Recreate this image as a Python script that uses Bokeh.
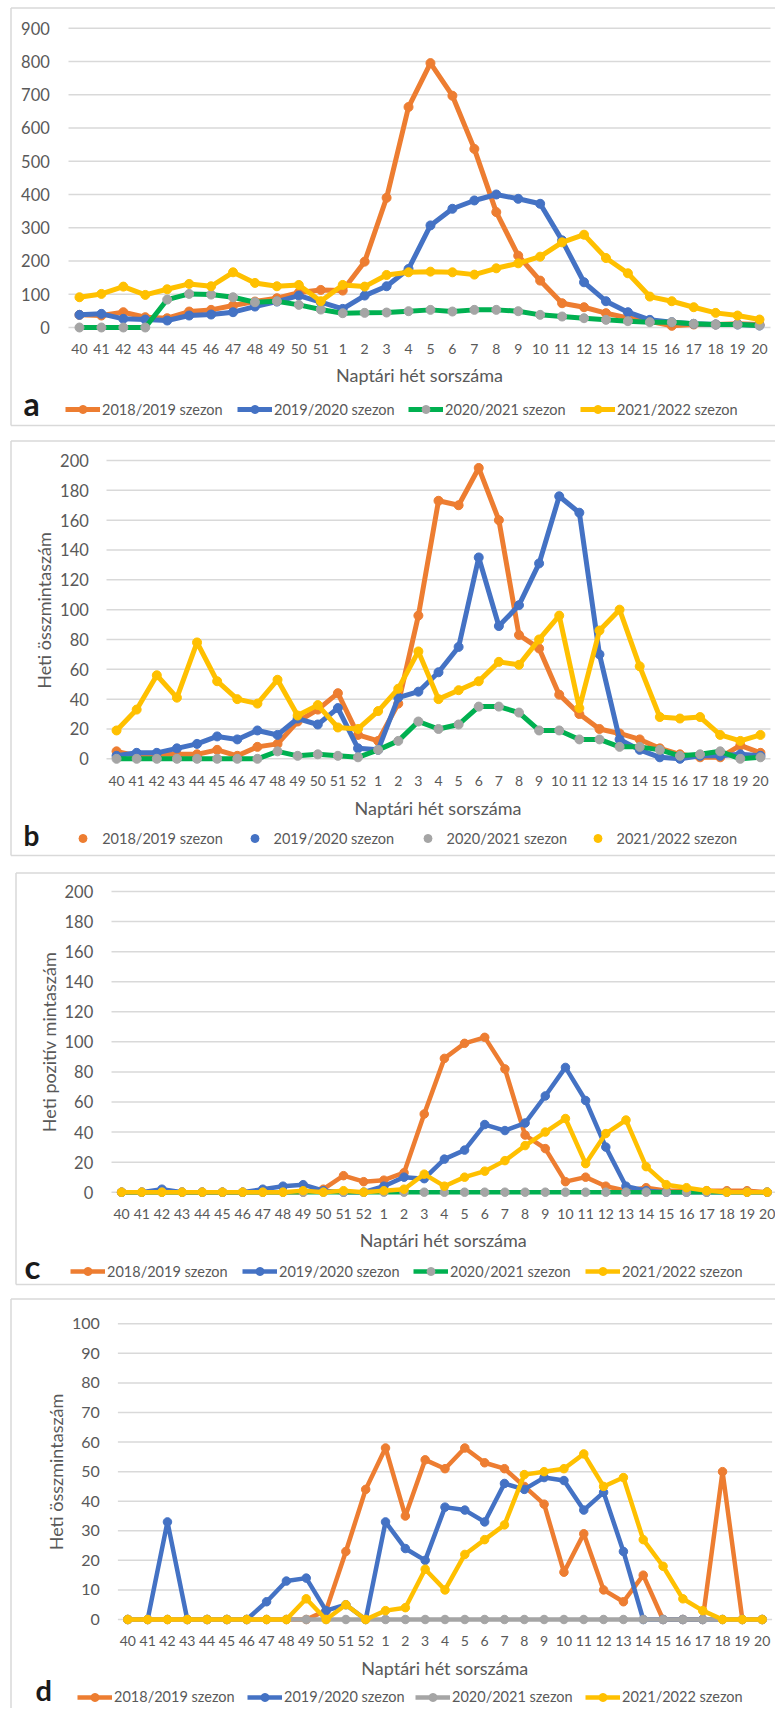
import math
from bokeh.plotting import figure
from bokeh.models import Range1d, Legend, LegendItem, ColumnDataSource
from bokeh.layouts import column
from bokeh.embed import file_html
from bokeh.resources import INLINE
from bokeh.core.properties import value

FONT = "Lato"
TXT = "#595959"
GRID = "#d9d9d9"
ORANGE = "#ED7D31"
BLUE = "#4472C4"
GRAY = "#A5A5A5"
YELLOW = "#FFC000"
GREEN = "#00B050"

seasons = ["2018/2019 szezon", "2019/2020 szezon", "2020/2021 szezon", "2021/2022 szezon"]
x_title = "Naptári hét sorszáma"

weeks_a = ["40", "41", "42", "43", "44", "45", "46", "47", "48", "49", "50", "51",
           "1", "2", "3", "4", "5", "6", "7", "8", "9", "10", "11", "12", "13", "14",
           "15", "16", "17", "18", "19", "20"]
weeks_b = ["40", "41", "42", "43", "44", "45", "46", "47", "48", "49", "50", "51", "52",
           "1", "2", "3", "4", "5", "6", "7", "8", "9", "10", "11", "12", "13", "14",
           "15", "16", "17", "18", "19", "20"]

# panel a
a_1819 = [38, 36, 46, 31, 28, 48, 53, 66, 78, 88, 105, 113,
          111, 198, 390, 663, 795, 697, 537, 347, 216, 141, 73, 61, 43, 29, 19, 5, 9, 9, 11, 9]
a_1920 = [38, 41, 26, 24, 21, 36, 39, 46, 63, 78, 96, 76,
          56, 96, 124, 176, 307, 357, 382, 400, 387, 372, 262, 136, 79, 46, 23, 16, 11, 9, 9, 6]
a_2021 = [0, 0, 0, 0, 84, 101, 99, 91, 76, 79, 68, 54,
          43, 44, 45, 49, 53, 48, 53, 53, 49, 38, 33, 28, 23, 19, 16, 16, 11, 9, 9, 6]
a_2122 = [91, 101, 123, 98, 115, 131, 124, 166, 134, 124, 128, 79,
          128, 123, 158, 166, 168, 166, 159, 178, 193, 213, 256, 279, 209, 163, 93, 79, 61, 44, 36, 24]

# panel b
b_1819 = [5, 2, 3, 3, 3, 6, 2, 8, 10, 25, 33, 44, 16,
          12, 37, 96, 173, 170, 195, 160, 83, 74, 43, 30, 20, 17, 13, 7, 3, 1, 1, 9, 4]
b_1920 = [2, 4, 4, 7, 10, 15, 13, 19, 16, 27, 23, 34, 7,
          6, 41, 45, 58, 75, 135, 89, 103, 131, 176, 165, 70, 13, 6, 1, 0, 2, 2, 3, 2]
b_2021 = [0, 0, 0, 0, 0, 0, 0, 0, 5, 2, 3, 2, 1,
          6, 12, 25, 20, 23, 35, 35, 31, 19, 19, 13, 13, 8, 8, 6, 2, 3, 5, 0, 1]
b_2122 = [19, 33, 56, 41, 78, 52, 40, 37, 53, 29, 36, 21, 20,
          32, 47, 72, 40, 46, 52, 65, 63, 80, 96, 34, 86, 100, 62, 28, 27, 28, 16, 12, 16]

# panel c
c_1819 = [0, 0, 0, 0, 0, 0, 0, 0, 0, 0, 2, 11, 7,
          8, 13, 52, 89, 99, 103, 82, 38, 29, 7, 10, 4, 1, 3, 1, 1, 1, 1, 1, 0]
c_1920 = [0, 0, 2, 0, 0, 0, 0, 2, 4, 5, 1, 0, 0,
          4, 10, 9, 22, 28, 45, 41, 46, 64, 83, 61, 30, 4, 1, 0, 0, 0, 0, 0, 0]
c_2021 = [0, 0, 0, 0, 0, 0, 0, 0, 0, 0, 0, 0, 0,
          0, 0, 0, 0, 0, 0, 0, 0, 0, 0, 0, 0, 0, 0, 0, 0, 0, 0, 0, 0]
c_2122 = [0, 0, 0, 0, 0, 0, 0, 0, 0, 1, 0, 1, 0,
          1, 2, 12, 4, 10, 14, 21, 31, 40, 49, 19, 39, 48, 17, 5, 3, 1, 0, 0, 0]

# panel d
d_1819 = [0, 0, 0, 0, 0, 0, 0, 0, 0, 0, 3, 23, 44,
          58, 35, 54, 51, 58, 53, 51, 45, 39, 16, 29, 10, 6, 15, 0, 0, 0, 50, 0, 0]
d_1920 = [0, 0, 33, 0, 0, 0, 0, 6, 13, 14, 3, 5, 0,
          33, 24, 20, 38, 37, 33, 46, 44, 48, 47, 37, 43, 23, 0, 0, 0, 0, 0, 0, 0]
d_2021 = [0, 0, 0, 0, 0, 0, 0, 0, 0, 0, 0, 0, 0,
          0, 0, 0, 0, 0, 0, 0, 0, 0, 0, 0, 0, 0, 0, 0, 0, 0, 0, 0, 0]
d_2122 = [0, 0, 0, 0, 0, 0, 0, 0, 0, 7, 0, 5, 0,
          3, 4, 17, 10, 22, 27, 32, 49, 50, 51, 56, 45, 48, 27, 18, 7, 3, 0, 0, 0]

PAGE_W = 775


def make_panel(weeks, series, ymax, ystep, ylabel, letter, g):
    cy0, H = g["cy0"], g["H"]
    cx0, W = 0, PAGE_W
    n = len(weeks)
    s = (g["xr"] - g["xl"]) / n

    def ux(px):
        return (px - g["xl"]) / s - 0.5

    kpx = ymax / (g["zero"] - g["vmax"])

    def vy(py):
        return (g["zero"] - py) * kpx

    p = figure(width=W, height=H,
               x_range=Range1d(ux(cx0), ux(cx0 + W)), y_range=Range1d(vy(cy0 + H), vy(cy0)),
               x_axis_location=None, y_axis_location=None,
               output_backend="svg", toolbar_location=None,
               min_border_left=0, min_border_right=0, min_border_top=0, min_border_bottom=0)
    p.outline_line_color = None
    p.grid.visible = False
    p.background_fill_color = "white"
    p.border_fill_color = "white"

    # panel frame (light grey box)
    bx0, by0, bx1, by1 = g["box"]
    segs = [(bx0, by0, W + 5, by0), (bx0, by0, bx0, by1)]
    if by1 < cy0 + H:
        segs.append((bx0, by1, W + 5, by1))
    p.segment(x0=[ux(a[0]) for a in segs], y0=[vy(a[1]) for a in segs],
              x1=[ux(a[2]) for a in segs], y1=[vy(a[3]) for a in segs],
              line_color=GRID, line_width=1.5)

    xpos = list(range(n))
    ticks = list(range(0, ymax + 1, ystep))
    # horizontal gridlines
    p.segment(x0=[ux(g["xl"])] * len(ticks), x1=[ux(g["xr"])] * len(ticks), y0=ticks, y1=ticks,
              line_color=GRID, line_width=1.5)
    # y tick labels
    p.text(x=[ux(g["ytx"])] * len(ticks), y=ticks, text=[str(t) for t in ticks],
           text_align="right", text_baseline="middle", text_font=value(FONT),
           text_font_size=value(g["yfs"]), text_color=TXT)
    # x tick labels
    p.text(x=xpos, y=[vy(g["xtc"])] * n, text=weeks, text_align="center",
           text_baseline="middle", text_font=value(FONT),
           text_font_size=value(g["xfs"]), text_color=TXT)
    # x title
    p.text(x=[ux(g["xt_x"])], y=[vy(g["xt_y"])], text=[x_title], text_align="center",
           text_baseline="middle", text_font=value(FONT), text_font_size=value("18px"),
           text_color=TXT)
    # y title
    if ylabel:
        p.text(x=[ux(g["yt_x"])], y=[vy(g["yt_y"])], text=[ylabel], angle=math.pi / 2,
               text_align="center", text_baseline="middle", text_font=value(FONT),
               text_font_size=value("18px"), text_color=TXT)
    # panel letter
    fs = g["let_fs"]
    p.text(x=[ux(g["let_x"])], y=[vy(g["let_y"] - 0.387 * fs)], text=[letter],
           text_align="left", text_baseline="middle", text_font=value(FONT),
           text_font_style=value("bold"), text_font_size=value(f"{fs}px"), text_color="#1a1a1a")

    lh = 20
    for i, (name, vals, lc, mc) in enumerate(series):
        src = ColumnDataSource(dict(x=xpos, y=vals))
        rl = p.line("x", "y", source=src, line_color=lc, line_width=g["lw"], line_join="round")
        rs = p.scatter("x", "y", source=src, size=g["ms"], fill_color=mc, line_color=mc)
        rends = [rs] if g["dots_only"] else [rl, rs]
        lg = Legend(items=[LegendItem(label=name, renderers=rends)],
                    location=(g["leg_x"][i] - cx0, (cy0 + H) - (g["leg_y"] + lh / 2)),
                    orientation="horizontal", padding=0, margin=0, spacing=0,
                    glyph_width=35, glyph_height=lh, label_height=lh, label_standoff=2,
                    label_text_font=FONT, label_text_font_size="14.5px", label_text_color=TXT,
                    border_line_color=None, background_fill_alpha=0)
        p.add_layout(lg)
    return p


ga = dict(cy0=0, H=433, box=(10.5, 7.5, 0, 425), xl=68, xr=770, vmax=27.7, zero=327,
          ytx=49.3, xtc=348.3, xt_x=419, xt_y=374.4, yt_x=0, yt_y=0,
          xfs="14px", yfs="16.5px", lw=5, ms=9, dots_only=False,
          leg_x=[65, 237, 408, 580], leg_y=409.3, let_x=23, let_y=415.7, let_fs=32)
gb = dict(cy0=433, H=431, box=(10.5, 440.5, 0, 855), xl=106, xr=770, vmax=460, zero=758.3,
          ytx=88.3, xtc=780, xt_x=437.5, xt_y=807, yt_x=43, yt_y=610,
          xfs="14px", yfs="16.5px", lw=5, ms=9, dots_only=True,
          leg_x=[65.2, 236.5, 409.5, 579.5], leg_y=838.3, let_x=23, let_y=845.7, let_fs=28)
gc = dict(cy0=864, H=427, box=(15.5, 872.5, 0, 1284), xl=111, xr=776.8, vmax=891, zero=1191.7,
          ytx=92.7, xtc=1213, xt_x=442.8, xt_y=1239.2, yt_x=48, yt_y=1041.5,
          xfs="14px", yfs="16.5px", lw=4.5, ms=8.5, dots_only=False,
          leg_x=[70, 242, 413, 585], leg_y=1271, let_x=24, let_y=1278, let_fs=33)
gd = dict(cy0=1291, H=417, box=(10.5, 1298.5, 0, 1800), xl=117.4, xr=771.6, vmax=1323.3, zero=1619,
          ytx=99.3, xtc=1640.3, xt_x=444.3, xt_y=1667.2, yt_x=55, yt_y=1471.5,
          xfs="14px", yfs="16px", lw=4.5, ms=8.5, dots_only=False,
          leg_x=[77, 247, 415, 585], leg_y=1696.5, let_x=35, let_y=1700.5, let_fs=29)

pa = make_panel(weeks_a, [(seasons[0], a_1819, ORANGE, ORANGE), (seasons[1], a_1920, BLUE, BLUE),
                          (seasons[2], a_2021, GREEN, GRAY), (seasons[3], a_2122, YELLOW, YELLOW)],
                900, 100, None, "a", ga)
pb = make_panel(weeks_b, [(seasons[0], b_1819, ORANGE, ORANGE), (seasons[1], b_1920, BLUE, BLUE),
                          (seasons[2], b_2021, GREEN, GRAY), (seasons[3], b_2122, YELLOW, YELLOW)],
                200, 20, "Heti összmintaszám", "b", gb)
pc = make_panel(weeks_b, [(seasons[0], c_1819, ORANGE, ORANGE), (seasons[1], c_1920, BLUE, BLUE),
                          (seasons[2], c_2021, GREEN, GRAY), (seasons[3], c_2122, YELLOW, YELLOW)],
                200, 20, "Heti pozitív mintaszám", "c", gc)
pd_ = make_panel(weeks_b, [(seasons[0], d_1819, ORANGE, ORANGE), (seasons[1], d_1920, BLUE, BLUE),
                           (seasons[2], d_2021, GRAY, GRAY), (seasons[3], d_2122, YELLOW, YELLOW)],
                 100, 10, "Heti összmintaszám", "d", gd)

layout = column(pa, pb, pc, pd_, spacing=0)
open("out.html", "w").write(file_html(layout, INLINE))
